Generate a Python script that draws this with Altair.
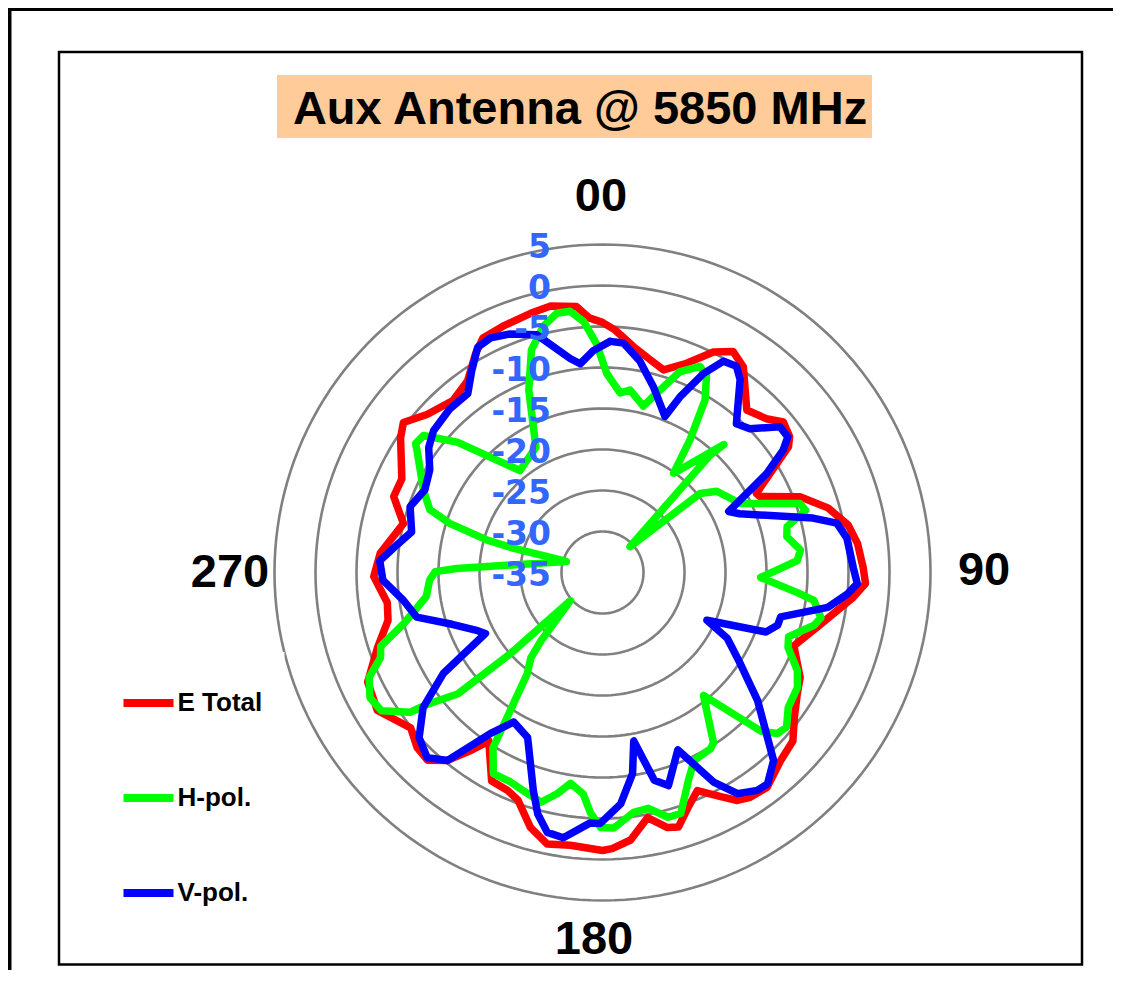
import altair as alt
import pandas as pd

TITLE = "Aux Antenna @ 5850 MHz"
series_names = ["E Total", "H-pol.", "V-pol."]
series_colors = ["#FF0000", "#00FF00", "#0000FF"]

# angle (deg, clockwise from 00) and gain (dB)
e_total_angle = [0, 3, 7.8, 12.6, 16.8, 21.9, 26.7, 30.6, 34.4, 41.6,
                 46.8, 50.2, 54, 55.9, 62.8, 64.2, 69, 74, 79, 83.5,
                 89, 92.4, 95.7, 104, 111, 118, 122, 127, 131.5, 136.6,
                 142.5, 146.7, 149.4, 152, 156.5, 160, 163.4, 165.7, 169.6, 174,
                 178, 180, 186.7, 191.5, 195.8, 200.4, 203.5, 208, 214, 216.6,
                 219.5, 223, 226.6, 231, 238.5, 245, 251.6, 257.4, 262, 269,
                 275, 283.8, 290, 295, 303.7, 307, 312, 319, 324.9, 330,
                 333, 338, 344.5, 349, 354.4, 357]
e_total_db = [-4.5, -5.4, -7.2, -8.4, -9.2, -7.5, -4.9, -3.7, -4.6, -8.5,
              -7.6, -6.3, -6.8, -7.6, -13.9, -13.7, -9.2, -6.4, -4.5, -3.7,
              -3.2, -2.9, -4.3, -7.9, -10.0, -7.7, -7.0, -5.7, -4.0, -3.4,
              -2.0, -2.2, -2.7, -4.0, -6.0, -4.5, -2.6, -2.9, -4.6, -2.2,
              -1.3, -1.1, -1.5, -1.2, -2.7, -5.4, -6.0, -6.2, -10.2, -7.9,
              -5.3, -3.7, -3.9, -4.9, -2.8, -3.4, -6.1, -8.2, -8.5, -7.1,
              -7.8, -10.0, -7.9, -8.0, -5.4, -4.6, -6.2, -7.2, -6.4, -4.1,
              -2.9, -2.6, -2.2, -1.9, -2.4, -3.9]

h_pol_angle = [1.2, 5.6, 8.6, 13.8, 16, 21, 25.3, 27.8, 30.7, 33.4,
               35.6, 43.5, 42.5, 46.8, 51, 54.6, 63.4, 70.7, 73, 76,
               79, 83.5, 86.5, 91.8, 95.9, 97.5, 101.7, 104, 109, 112,
               116.7, 120.5, 126, 130, 132.6, 135, 140.6, 146.9, 148.5, 154,
               157.5, 162, 165, 169, 172.6, 177.5, 180.4, 182.8, 185, 188.6,
               191.5, 195, 200, 203.7, 208.5, 212, 213, 216.6, 220, 222,
               228.8, 228.6, 230, 233, 234, 238, 241.7, 245.8, 249, 251.6,
               255.6, 262.2, 267.5, 270.3, 271.6, 287, 285.3, 285.7, 287.8, 290,
               292.4, 294.6, 303.4, 304.6, 307.4, 311.9, 321, 332, 338, 342.3,
               346.5, 350, 352.9, 355.7, 358.5]
h_pol_db = [-10.7, -13.0, -12.5, -14.1, -12.7, -8.8, -7.2, -7.8, -10.5, -15.6,
            -20.1, -13.5, -15.6, -30.4, -19.7, -17.9, -16.2, -9.5, -9.1, -11.8,
            -12.1, -10.7, -11.2, -15.7, -11.1, -9.0, -7.8, -8.4, -11.0, -10.6,
            -8.4, -7.4, -7.0, -5.7, -6.0, -7.6, -15.6, -10.2, -9.8, -9.5,
            -7.6, -4.1, -4.1, -5.7, -5.5, -3.8, -3.9, -5.6, -7.9, -9.0,
            -7.5, -6.0, -6.7, -7.1, -7.1, -9.8, -12.9, -19.6, -21.4, -23.8,
            -29.8, -20.0, -12.0, -8.3, -6.0, -3.2, -2.8, -3.8, -6.0, -6.5,
            -10.0, -13.3, -13.9, -14.6, -17.2, -30.4, -23.7, -20.4, -15.5, -12.6,
            -11.8, -11.0, -7.9, -7.3, -7.5, -11.2, -19.0, -17.7, -11.0, -6.5,
            -4.1, -2.9, -2.9, -4.3, -7.1]

v_pol_angle = [1.9, 5.2, 10, 15.3, 21.8, 23.8, 26.9, 29.8, 33, 35.5,
               42, 45.7, 50.6, 53.8, 55.9, 58.9, 64.2, 66.8, 75.5, 78.1,
               82, 89, 92.5, 95, 98.8, 104, 106.8, 110, 114.6, 117.8,
               122.9, 129.5, 137.7, 142, 144.6, 148.6, 152, 157, 162.8, 166,
               169.5, 171.5, 175.5, 180.5, 182.9, 188.4, 192, 195, 197.6, 204.4,
               210.7, 214.8, 219.5, 223.4, 228, 233, 237.6, 242.5, 245, 251,
               256.5, 262, 268, 273, 277.6, 282, 288.9, 294.9, 300.7, 305.7,
               310, 317, 323, 327, 331, 334.5, 338.8, 344.5, 351.4, 353.9,
               357.7]
v_pol_db = [-6.8, -6.9, -8.8, -11.5, -14.5, -11.6, -7.8, -5.3, -5.0, -6.1,
            -10.6, -9.9, -7.0, -7.0, -8.4, -11.6, -17.9, -16.8, -8.5, -5.8,
            -4.9, -4.4, -3.9, -5.0, -7.2, -12.6, -12.7, -13.8, -21.0, -17.8,
            -15.2, -10.5, -4.0, -2.3, -2.4, -3.4, -6.0, -11.5, -7.8, -8.9,
            -14.1, -10.2, -6.7, -4.4, -4.4, -2.3, -2.6, -4.5, -7.1, -12.9,
            -13.8, -11.1, -5.3, -3.9, -4.9, -7.6, -12.0, -18.9, -18.2, -15.6,
            -11.7, -10.5, -8.2, -7.8, -9.7, -11.2, -10.2, -11.1, -10.5, -8.9,
            -8.1, -7.7, -7.7, -5.7, -3.6, -3.3, -3.8, -4.9, -8.6, -9.4,
            -7.9]

ring_values = [-30, -25, -20, -15, -10, -5, 0, 5]
tick_values = [5, 0, -5, -10, -15, -20, -25, -30, -35]
tick_labels = ["5", "0", "-5", "-10", "-15", "-20", "-25", "-30", "-35"]
direction_angles = [0, 90, 180, 270]
direction_labels = ["00", "90", "180", "270"]
R_MIN = -35

# ---- tables -------------------------------------------------------------
rows = []
for name, angs, vals in [(series_names[0], e_total_angle, e_total_db),
                         (series_names[1], h_pol_angle, h_pol_db),
                         (series_names[2], v_pol_angle, v_pol_db)]:
    pts = list(zip(angs, vals))
    pts.append(pts[0])
    for i, (a, v) in enumerate(pts):
        rows.append({"series": name, "i": i, "angle": a, "db": v})
series_df = pd.DataFrame(rows)

ring_rows = []
for v in ring_values:
    for k in range(181):
        ring_rows.append({"ring": v, "k": k, "angle": k * 2.0, "db": v})
ring_df = pd.DataFrame(ring_rows)

tick_df = pd.DataFrame({"db": tick_values, "label": tick_labels})
dir_df = pd.DataFrame({"angle": direction_angles, "label": direction_labels})
title_df = pd.DataFrame({"t": [TITLE]})
one = pd.DataFrame({"k": [0]})

# ---- scales (8.2 px per dB, pole at the page point 602.5, 572.5) --------
W, H = 1105, 962
PX = 8.2
CX, CY = 594.5, 564.5
xs = alt.Scale(domain=[-CX / PX, (W - CX) / PX], nice=False, zero=False)
ys = alt.Scale(domain=[-(H - CY) / PX, CY / PX], nice=False, zero=False)

XC = f"(datum.db - ({R_MIN})) * sin(datum.angle * PI / 180)"
YC = f"(datum.db - ({R_MIN})) * cos(datum.angle * PI / 180)"

X = alt.X("x:Q", scale=xs, axis=None)
Y = alt.Y("y:Q", scale=ys, axis=None)

outer = alt.Chart(one).mark_rect(fillOpacity=0, stroke="black", strokeWidth=4).encode(
    x=alt.value(1.5), x2=alt.value(1500), y=alt.value(1), y2=alt.value(1500))
inner = alt.Chart(one).mark_rect(fillOpacity=0, stroke="black", strokeWidth=2.5).encode(
    x=alt.value(51), x2=alt.value(1074), y=alt.value(44), y2=alt.value(956.5))

title_box = alt.Chart(one).mark_rect(fill="#FFCC99").encode(
    x=alt.value(269), x2=alt.value(864), y=alt.value(67), y2=alt.value(130))
title_text = alt.Chart(title_df).mark_text(
    font="Liberation Sans", fontWeight="bold", fontSize=47, align="center",
    baseline="middle", color="black").encode(
    x=alt.value(572), y=alt.value(102), text="t:N")

rings = alt.Chart(ring_df).transform_calculate(x=XC, y=YC).mark_line(
    color="#808080", strokeWidth=2.6).encode(
    x=X, y=Y, detail="ring:N", order="k:Q")

lines = alt.Chart(series_df).transform_calculate(x=XC, y=YC).mark_line(
    strokeWidth=7.5, strokeJoin="round", strokeCap="round").encode(
    x=X, y=Y, detail="series:N", order="i:Q",
    color=alt.Color("series:N",
                    scale=alt.Scale(domain=series_names, range=series_colors),
                    legend=alt.Legend(
                        title=None, orient="none", legendX=89.5, legendY=644,
                        direction="vertical", symbolType="stroke",
                        symbolStrokeWidth=8, symbolSize=2500,
                        labelFont="Liberation Sans", labelFontWeight="bold",
                        labelFontSize=26, labelColor="black", labelOffset=0,
                        rowPadding=50, fillColor="white", padding=22,
                        labelLimit=400)))

ticks = alt.Chart(tick_df).transform_calculate(
    y=f"datum.db - ({R_MIN})").mark_text(
    font="DejaVu Sans", fontWeight="bold", fontSize=33, align="right",
    baseline="middle", dy=3, color="#3366FF").encode(
    x=alt.value(543), y=Y, text="label:N")


def direction_layer(label, dx, dy):
    return alt.Chart(dir_df).transform_filter(
        alt.datum.label == label
    ).transform_calculate(
        x="45.8 * sin(datum.angle * PI / 180)",
        y="45.8 * cos(datum.angle * PI / 180)").mark_text(
        font="Liberation Sans", fontWeight="bold", fontSize=47, align="center",
        baseline="middle", color="black", dx=dx, dy=dy).encode(
        x=X, y=Y, text="label:N")


dir_layers = [direction_layer("00", -1.5, 0), direction_layer("90", 6, -2),
              direction_layer("180", -8.5, -8), direction_layer("270", 3, 0)]

chart = alt.layer(outer, inner, title_box, title_text, rings, lines, ticks,
                  *dir_layers).properties(
    width=W, height=H, padding=0,
    autosize=alt.AutoSizeParams(type="none"), background="white"
).configure_view(stroke=None)

chart.save("out.html", embed_options={"renderer": "svg", "actions": False})
